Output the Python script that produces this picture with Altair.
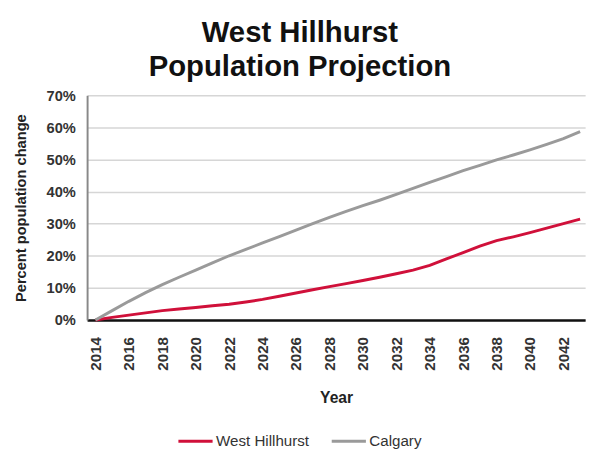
import altair as alt
import pandas as pd

years = list(range(2014, 2044))
west_hillhurst = [0, 0.8, 1.5, 2.2, 2.9, 3.4, 3.9, 4.4, 4.9, 5.6, 6.4, 7.4, 8.4, 9.4, 10.4,
                  11.3, 12.3, 13.3, 14.4, 15.5, 17.0, 19.0, 21.0, 23.0, 24.7, 25.9, 27.2,
                  28.6, 30.0, 31.4]
calgary = [0, 2.9, 5.8, 8.5, 11.0, 13.3, 15.5, 17.8, 20.0, 22.0, 24.0, 26.0, 28.0, 30.0,
           32.0, 33.8, 35.6, 37.3, 39.1, 41.0, 42.9, 44.7, 46.5, 48.2, 49.9, 51.4, 53.0,
           54.7, 56.5, 58.7]
series_names = ["West Hillhurst", "Calgary"]
series_colors = ["#d0103a", "#9a9a9a"]
x_ticks = list(range(2014, 2043, 2))
y_ticks = [0, 10, 20, 30, 40, 50, 60, 70]

rows = []
for name, vals in zip(series_names, [west_hillhurst, calgary]):
    for y, v in zip(years, vals):
        rows.append({"Year": y, "Series": name, "Change": v})
df = pd.DataFrame(rows)

FONT = "Liberation Sans"

chart = alt.Chart(df).mark_line(strokeWidth=3).encode(
    x=alt.X("Year:Q",
            scale=alt.Scale(domain=[2013.5, 2043.3], nice=False, zero=False),
            axis=alt.Axis(values=x_ticks, labelAngle=-90, format="d", title="Year",
                          grid=False, ticks=False, domainColor="#111", domainWidth=2.5,
                          labelFont=FONT, labelFontSize=15.5, labelFontWeight="bold",
                          labelColor="#333", labelPadding=17, labelAlign="right",
                          labelBaseline="middle",
                          titleFont=FONT, titleFontSize=16, titleFontWeight="bold",
                          titleColor="#222", titlePadding=20)),
    y=alt.Y("Change:Q",
            scale=alt.Scale(domain=[0, 70], nice=False),
            axis=alt.Axis(values=y_ticks, labelExpr="datum.value + '%'",
                          title="Percent population change", ticks=False,
                          domainColor="#888", domainWidth=2,
                          gridColor="#d6d6d6", gridWidth=1.5,
                          labelFont=FONT, labelFontSize=15, labelFontWeight="bold",
                          labelColor="#333", labelPadding=12,
                          titleFont=FONT, titleFontSize=15, titleFontWeight="bold",
                          titleColor="#222", titlePadding=18)),
    color=alt.Color("Series:N",
                    scale=alt.Scale(domain=series_names, range=series_colors),
                    sort=series_names,
                    legend=alt.Legend(title=None, orient="none", direction="horizontal",
                                      legendX=92, legendY=335,
                                      symbolType="stroke", symbolSize=1225,
                                      symbolStrokeWidth=3,
                                      labelFont=FONT, labelFontSize=15.5,
                                      labelColor="#333", columnPadding=16,
                                      labelOffset=2)),
).properties(
    width=510,
    height=230,
    title=alt.TitleParams(text=["West Hillhurst", "Population Projection"],
                          font=FONT, fontSize=30, fontWeight="bold", color="#111",
                          anchor="middle", frame="bounds", lineHeight=35, offset=7),
).configure_view(stroke=None)

chart.save("out.html", embed_options={"renderer": "svg", "actions": False})
